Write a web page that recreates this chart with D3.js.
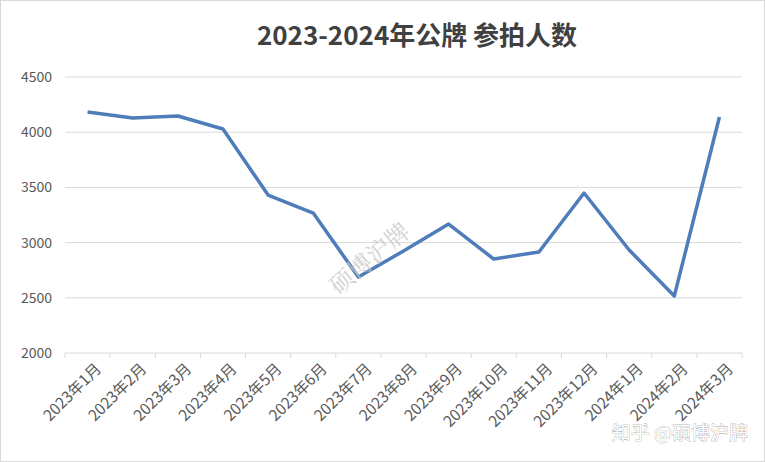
<!DOCTYPE html>
<html><head><meta charset="utf-8">
<script src="https://cdn.jsdelivr.net/npm/d3@7"></script>
<style>body{margin:0;background:#fff}</style>
</head><body><div id="chart"></div>
<script>
const months = ['2023年1月','2023年2月','2023年3月','2023年4月','2023年5月','2023年6月','2023年7月','2023年8月','2023年9月','2023年10月','2023年11月','2023年12月','2024年1月','2024年2月','2024年3月'];
const bidders = [4183,4129,4147,4029,3431,3268,2688,2924,3168,2851,2915,3449,2933,2516,4138];
const yTicks = [2000,2500,3000,3500,4000,4500];

const width = 765, height = 462;
const m = {left: 65, right: 23, top: 77, bottom: 109};
const font = '"Noto Sans CJK SC", sans-serif';

const svg = d3.select('#chart').append('svg').attr('width', width).attr('height', height);
svg.append('rect').attr('x', 0.5).attr('y', 0.5).attr('width', width - 1).attr('height', height - 1)
  .attr('fill', '#fff').attr('stroke', '#d9d9d9');

const x = d3.scalePoint().domain(months).range([m.left, width - m.right]).padding(0.5);
const y = d3.scaleLinear().domain([2000, 4500]).range([height - m.bottom, m.top]);

// gridlines
svg.append('g').selectAll('line').data(yTicks).enter().append('line')
  .attr('x1', m.left).attr('x2', width - m.right)
  .attr('y1', d => y(d)).attr('y2', d => y(d))
  .attr('stroke', '#d9d9d9');

svg.append('g').selectAll('text').data(yTicks).enter().append('text')
  .attr('x', 52).attr('y', d => y(d) + 5).attr('text-anchor', 'end')
  .attr('font-family', font).attr('font-size', 14).attr('fill', '#595959').text(d => d);

// x axis ticks
const step = x.step();
svg.append('g').selectAll('line').data(d3.range(months.length + 1)).enter().append('line')
  .attr('x1', i => m.left + i * step).attr('x2', i => m.left + i * step)
  .attr('y1', y(2000)).attr('y2', y(2000) + 5).attr('stroke', '#d9d9d9');

svg.append('g').selectAll('text').data(months).enter().append('text')
  .attr('transform', d => `translate(${x(d) + 7},${y(2000) + 9}) rotate(-45)`)
  .attr('text-anchor', 'end').attr('dy', '0.7em')
  .attr('font-family', font).attr('font-size', 15.5).attr('fill', '#595959').text(d => d);

// line
svg.append('path').datum(bidders)
  .attr('fill', 'none').attr('stroke', '#4e7dba').attr('stroke-width', 3.5)
  .attr('stroke-linejoin', 'round')
  .attr('d', d3.line().x((d, i) => x(months[i])).y(d => y(d)));

// title
svg.append('text').attr('x', 417).attr('y', 45).attr('text-anchor', 'middle')
  .attr('font-family', font).attr('font-size', 26).attr('font-weight', 'bold').attr('fill', '#404040')
  .text('2023-2024年公牌 参拍人数');

// watermarks
svg.append('text').attr('transform', 'translate(375,265) rotate(-40)').attr('text-anchor', 'middle')
  .attr('font-family', '"Noto Serif CJK SC", serif').attr('font-size', 24).attr('fill', '#c8c8c8').attr('opacity', 0.8)
  .text('硕博沪牌');
svg.append('text').attr('x', 748).attr('y', 440).attr('text-anchor', 'end')
  .attr('font-family', font).attr('font-size', 19).attr('fill', '#fff')
  .attr('stroke', '#999').attr('stroke-width', 0.6).attr('paint-order', 'stroke')
  .text('知乎 @硕博沪牌');
</script></body></html>
